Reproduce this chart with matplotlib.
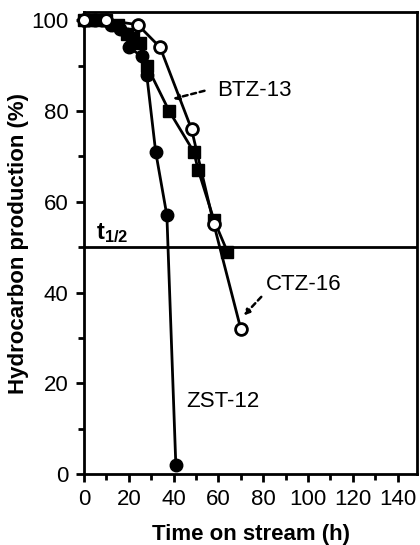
import matplotlib
matplotlib.use("Agg")
import matplotlib.pyplot as plt
from matplotlib.ticker import MultipleLocator

plt.rcParams['font.family'] = ['Liberation Sans', 'DejaVu Sans']
plt.rcParams['mathtext.fontset'] = 'custom'
plt.rcParams['mathtext.rm'] = 'Liberation Sans'
plt.rcParams['mathtext.bf'] = 'Liberation Sans:bold'
plt.rcParams['mathtext.it'] = 'Liberation Sans:italic'

# ZST-12 (filled circles)
zst_x = [0, 2, 5, 8, 12, 16, 19, 20, 26, 28, 32, 37, 41]
zst_y = [100, 100, 100, 100, 99, 98, 97, 94, 92, 88, 71, 57, 2]
# BTZ-13 (filled squares)
btz_x = [0, 3, 6, 10, 15, 19, 22, 25, 28, 38, 49, 51, 58, 64]
btz_y = [100, 100, 100, 100, 99, 97, 96, 95, 90, 80, 71, 67, 56, 49]
# CTZ-16 (open circles)
ctz_x = [0, 10, 24, 34, 48, 58, 70]
ctz_y = [100, 100, 99, 94, 76, 55, 32]

fig = plt.figure(figsize=(4.2, 5.45), dpi=100)
ax = fig.add_axes([0.2, 0.13, 0.793, 0.848])

ax.axhline(50, color='black', lw=2, zorder=1)
ax.plot(zst_x, zst_y, '-o', color='black', lw=2, ms=9, mfc='black', mec='black', zorder=3, clip_on=False)
ax.plot(btz_x, btz_y, '-s', color='black', lw=2, ms=8.5, mfc='black', mec='black', zorder=3, clip_on=False)
ax.plot(ctz_x, ctz_y, '-o', color='black', lw=2, ms=8.5, mfc='white', mec='black', mew=2, zorder=4, clip_on=False)

ax.set_xlim(0, 148.7)
ax.set_ylim(0, 101.8)
ax.xaxis.set_major_locator(MultipleLocator(20))
ax.xaxis.set_minor_locator(MultipleLocator(10))
ax.yaxis.set_major_locator(MultipleLocator(20))
ax.yaxis.set_minor_locator(MultipleLocator(10))
ax.tick_params(which='both', direction='out', width=2, labelsize=16, pad=5)
ax.tick_params(which='major', length=6)
ax.tick_params(which='minor', length=4)
for s in ax.spines.values():
    s.set_linewidth(2)

ax.set_xlabel('Time on stream (h)', fontsize=16, fontweight='bold', labelpad=10)
ax.set_ylabel('Hydrocarbon production (%)', fontsize=16, fontweight='bold', labelpad=2)

ax.text(59.5, 84.6, 'BTZ-13', fontsize=16, va='center', ha='left')
ax.annotate('', xy=(38.5, 82.5), xytext=(55, 84.6),
            arrowprops=dict(arrowstyle='-|>', ls=(0, (2, 1.5)), lw=1.8, color='black', mutation_scale=8))
ax.text(81, 41.8, 'CTZ-16', fontsize=16, va='center', ha='left')
ax.annotate('', xy=(70.5, 34.5), xytext=(80, 39.5),
            arrowprops=dict(arrowstyle='-|>', ls=(0, (2, 1.5)), lw=1.8, color='black', mutation_scale=8))
ax.text(45.5, 16, 'ZST-12', fontsize=16, va='center', ha='left')
ax.text(5.5, 53.2, r'$\mathbf{t_{1/2}}$', fontsize=17, va='center', ha='left')

fig.savefig('out.png', dpi=100)
